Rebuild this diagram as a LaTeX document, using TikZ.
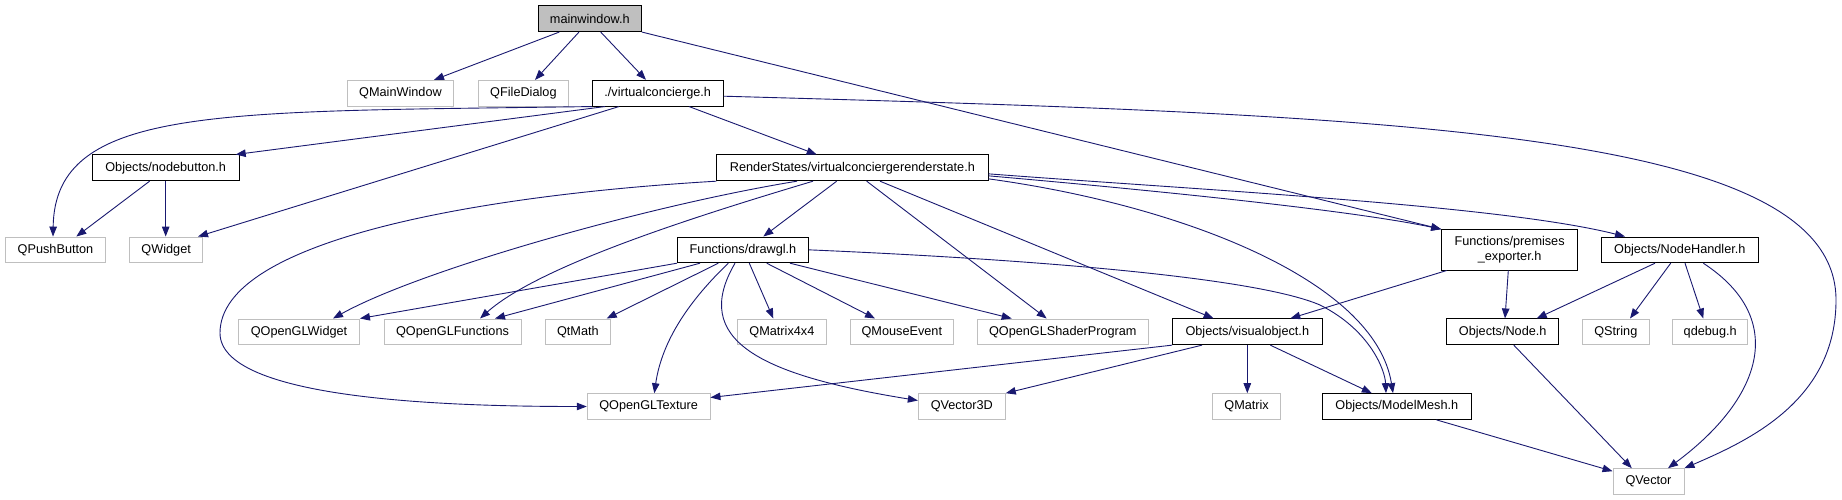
\documentclass[tikz,border=0pt]{standalone}
\usepackage{fontspec}
\setmainfont{Liberation Sans}
\usetikzlibrary{arrows.meta}
\definecolor{grey75}{HTML}{BFBFBF}
\definecolor{mblue}{HTML}{191970}
\begin{document}
\begin{tikzpicture}[x=1pt,y=-1pt,
  base/.style={minimum height=25.7pt, inner sep=0pt, font=\fontsize{12.7}{15}\selectfont, anchor=center},
  gnode/.style={base, draw=grey75, line width=0.9pt},
  bnode/.style={base, draw=black, line width=1pt},
  edge/.style={draw=mblue, line width=0.9pt, -{Triangle[length=10pt,width=7.5pt]}}]
\fill[white] (0,0) rectangle (1842,500);
\useasboundingbox (0,0) rectangle (1842,500);
% row 0
\node[bnode, fill=grey75, minimum width=103pt] (mw) at (589.8,18.7) {mainwindow.h};
% row 1
\node[gnode, minimum width=106.2pt] (qmw) at (400.5,93.2) {QMainWindow};
\node[gnode, minimum width=89.2pt] (qfd) at (523.4,93.2) {QFileDialog};
\node[bnode, minimum width=130.7pt] (vc) at (657.7,93.2) {./virtualconcierge.h};
% row 2
\node[bnode, minimum width=147.2pt] (nb) at (165.7,167.85) {Objects/nodebutton.h};
\node[bnode, minimum width=271.2pt] (rs) at (852.4,167.85) {RenderStates/virtualconciergerenderstate.h};
% row 3
\node[gnode, minimum width=100.3pt] (qpb) at (55.5,249.85) {QPushButton};
\node[gnode, minimum width=72.9pt] (qw) at (166.2,249.85) {QWidget};
\node[bnode, minimum width=131pt] (dg) at (743,249.85) {Functions/drawgl.h};
\node[bnode, minimum width=135.8pt, minimum height=40.3pt, align=center] (pe) at (1509.6,249.85) {Functions/premises\\\_exporter.h};
\node[bnode, minimum width=156.5pt] (nh) at (1679.8,249.85) {Objects/NodeHandler.h};
% row 4
\node[gnode, minimum width=121pt] (qglw) at (299,331.8) {QOpenGLWidget};
\node[gnode, minimum width=137pt] (qglf) at (452.5,331.8) {QOpenGLFunctions};
\node[gnode, minimum width=65.2pt] (qtm) at (577.9,331.8) {QtMath};
\node[gnode, minimum width=89.3pt] (m44) at (781.9,331.8) {QMatrix4x4};
\node[gnode, minimum width=102.5pt] (me) at (901.8,331.8) {QMouseEvent};
\node[gnode, minimum width=170.4pt] (qsp) at (1062.8,331.8) {QOpenGLShaderProgram};
\node[bnode, minimum width=149.5pt] (vo) at (1247.3,331.8) {Objects/visualobject.h};
\node[bnode, minimum width=111.7pt] (nd) at (1502.7,331.8) {Objects/Node.h};
\node[gnode, minimum width=66.5pt] (qs) at (1615.8,331.8) {QString};
\node[gnode, minimum width=74.7pt] (qd) at (1710.2,331.8) {qdebug.h};
% row 5
\node[gnode, minimum width=122.8pt] (tex) at (648.6,406.5) {QOpenGLTexture};
\node[gnode, minimum width=87pt] (v3) at (961.8,406.5) {QVector3D};
\node[gnode, minimum width=67.5pt] (qm) at (1246.6,406.5) {QMatrix};
\node[bnode, minimum width=148.5pt] (mm) at (1396.8,406.5) {Objects/ModelMesh.h};
% row 6
\node[gnode, minimum width=71pt] (qv) at (1648.5,481.5) {QVector};

% edges from mainwindow
\draw[edge] ([xshift=-30.5pt]mw.south) -- ([xshift=33.5pt]qmw.north);
\draw[edge] ([xshift=-10.8pt]mw.south) -- ([xshift=11.6pt]qfd.north);
\draw[edge] ([xshift=10.9pt]mw.south) -- ([xshift=-11.7pt]vc.north);
\draw[edge] (mw.south east) -- (pe.north west);
% edges from virtualconcierge
\draw[edge] (vc.south west) .. controls (220,112) and (55,105) .. ([xshift=-2.5pt]qpb.north);
\draw[edge] ([xshift=-52.7pt]vc.south) -- ([xshift=70pt]nb.north);
\draw[edge] ([xshift=-38.7pt]vc.south) -- ([xshift=31.8pt]qw.north);
\draw[edge] ([xshift=31.3pt]vc.south) -- ([xshift=-35.7pt]rs.north);
\draw[edge] ([yshift=-3pt]vc.east) .. controls (1400,115) and (1836,130) .. (1836,300)
  .. controls (1836,400) and (1750,440) .. (qv.north east);
% nodebutton
\draw[edge] ([xshift=-16.1pt]nb.south) -- ([xshift=20.8pt]qpb.north);
\draw[edge] (nb.south) -- (nb.south |- qw.north);
% renderstate
\draw[edge] ([xshift=-15.7pt]rs.south) -- ([xshift=20.3pt]dg.north);
\draw[edge] (rs.south west) .. controls (480,195) and (220,240) .. (220,333)
  .. controls (220,400) and (450,406.5) .. (tex.west);
\draw[edge] ([xshift=-55.4pt]rs.south) .. controls (650,205) and (420,270) .. ([xshift=34pt]qglw.north);
\draw[edge] ([xshift=-39.4pt]rs.south) .. controls (700,215) and (540,265) .. ([xshift=27.5pt]qglf.north);
\draw[edge] ([xshift=14.3pt]rs.south) -- ([xshift=-16.1pt]qsp.north);
\draw[edge] ([xshift=27.6pt]rs.south) -- ([xshift=-33.7pt]vo.north);
\draw[edge] ([yshift=-11pt]rs.east) .. controls (1180,205) and (1375,280) .. ([xshift=-3.8pt]mm.north);
\draw[edge] ([yshift=-8pt]rs.east) .. controls (1150,190) and (1350,210) .. (pe.north west);
\draw[edge] ([yshift=-6pt]rs.east) .. controls (1200,190) and (1500,205) .. ([xshift=-54.8pt]nh.north);
% drawgl
\draw[edge] (dg.south west) -- (qglw.north east);
\draw[edge] ([xshift=-43pt]dg.south) -- ([xshift=42.5pt]qglf.north);
\draw[edge] ([xshift=-24.7pt]dg.south) -- ([xshift=28.8pt]qtm.north);
\draw[edge] ([xshift=-14.7pt]dg.south) .. controls (690,300) and (662,340) .. ([xshift=5.7pt]tex.north);
\draw[edge] ([xshift=-8pt]dg.south) .. controls (690,340) and (760,375) .. ([yshift=6pt]v3.west);
\draw[edge] ([xshift=6.3pt]dg.south) -- ([xshift=-8.6pt]m44.north);
\draw[edge] ([xshift=23.7pt]dg.south) -- ([xshift=-26.8pt]me.north);
\draw[edge] ([xshift=47pt]dg.south) -- ([xshift=-51.1pt]qsp.north);
\draw[edge] (dg.east) .. controls (1000,258) and (1250,275) .. (1320,305)
  .. controls (1370,330) and (1385,370) .. ([xshift=-10.8pt]mm.north);
% premises
\draw[edge] ([xshift=-62.9pt]pe.south) -- ([xshift=43pt]vo.north);
\draw[edge] ([xshift=-1.3pt]pe.south) -- ([xshift=2.3pt]nd.north);
% NodeHandler
\draw[edge] ([xshift=-24.8pt]nh.south) -- ([xshift=34pt]nd.north);
\draw[edge] ([xshift=-9.1pt]nh.south) -- ([xshift=14.2pt]qs.north);
\draw[edge] ([xshift=5.2pt]nh.south) -- ([xshift=-6.9pt]qd.north);
\draw[edge] ([xshift=23.5pt]nh.south) .. controls (1790,320) and (1760,400) .. ([xshift=19.5pt]qv.north);
% visualobject
\draw[edge] (vo.south west) -- ([yshift=9pt]tex.east);
\draw[edge] ([xshift=-45.3pt]vo.south) -- (v3.north east);
\draw[edge] (vo.south) -- (vo.south |- qm.north);
\draw[edge] ([xshift=23pt]vo.south) -- ([xshift=-25pt]mm.north);
% Node.h and ModelMesh
\draw[edge] ([xshift=11.1pt]nd.south) -- ([xshift=-16.7pt]qv.north);
\draw[edge] ([xshift=39.6pt]mm.south) -- ([yshift=-3pt]qv.north west);
\end{tikzpicture}
\end{document}
